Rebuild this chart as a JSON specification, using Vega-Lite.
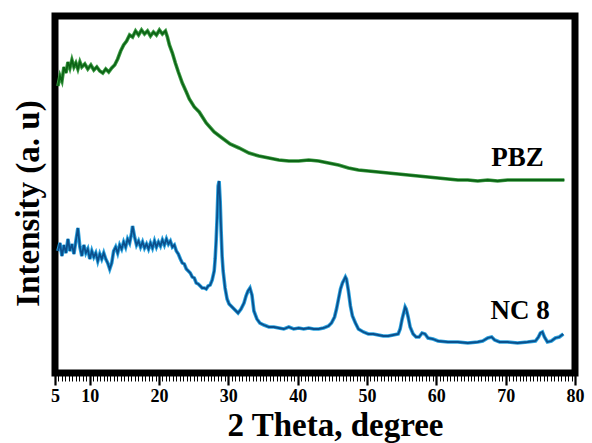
{
  "$schema": "https://vega.github.io/schema/vega-lite/v6.json",
  "width": 520,
  "height": 357,
  "autosize": {"type": "none"},
  "padding": {"left": 55, "top": 16, "right": 17, "bottom": 70},
  "config": {"view": {"stroke": "black", "strokeWidth": 7}, "font": "Liberation Serif"},
  "datasets": {
    "xrd": [
      {"s":"PBZ","t":5.43,"v":287},{"s":"PBZ","t":5.72,"v":297},{"s":"PBZ","t":6.0,"v":292},{"s":"PBZ","t":6.29,"v":306},{"s":"PBZ","t":6.58,"v":300},{"s":"PBZ","t":6.87,"v":311},{"s":"PBZ","t":7.15,"v":305},{"s":"PBZ","t":7.44,"v":313},{"s":"PBZ","t":7.73,"v":306},{"s":"PBZ","t":8.01,"v":310},{"s":"PBZ","t":8.3,"v":304},{"s":"PBZ","t":8.59,"v":311},{"s":"PBZ","t":8.87,"v":306},{"s":"PBZ","t":9.3,"v":309},{"s":"PBZ","t":9.73,"v":304},{"s":"PBZ","t":10.17,"v":308},{"s":"PBZ","t":10.6,"v":303},{"s":"PBZ","t":11.03,"v":306},{"s":"PBZ","t":11.46,"v":302},{"s":"PBZ","t":11.89,"v":300},{"s":"PBZ","t":12.32,"v":304},{"s":"PBZ","t":12.75,"v":301},{"s":"PBZ","t":13.18,"v":305},{"s":"PBZ","t":13.61,"v":308},{"s":"PBZ","t":14.04,"v":314},{"s":"PBZ","t":14.47,"v":322},{"s":"PBZ","t":14.9,"v":328},{"s":"PBZ","t":15.33,"v":332},{"s":"PBZ","t":15.76,"v":338},{"s":"PBZ","t":16.19,"v":336},{"s":"PBZ","t":16.62,"v":342},{"s":"PBZ","t":17.05,"v":338},{"s":"PBZ","t":17.48,"v":343},{"s":"PBZ","t":17.91,"v":339},{"s":"PBZ","t":18.34,"v":342},{"s":"PBZ","t":18.77,"v":337},{"s":"PBZ","t":19.2,"v":341},{"s":"PBZ","t":19.63,"v":338},{"s":"PBZ","t":20.06,"v":343},{"s":"PBZ","t":20.49,"v":339},{"s":"PBZ","t":20.93,"v":342},{"s":"PBZ","t":21.21,"v":336},{"s":"PBZ","t":21.5,"v":328},{"s":"PBZ","t":21.93,"v":320},{"s":"PBZ","t":22.36,"v":310},{"s":"PBZ","t":22.79,"v":301},{"s":"PBZ","t":23.36,"v":290},{"s":"PBZ","t":23.94,"v":281},{"s":"PBZ","t":24.37,"v":274},{"s":"PBZ","t":25.09,"v":266},{"s":"PBZ","t":25.8,"v":261},{"s":"PBZ","t":26.81,"v":250},{"s":"PBZ","t":27.96,"v":241},{"s":"PBZ","t":29.1,"v":235},{"s":"PBZ","t":30.25,"v":229},{"s":"PBZ","t":31.54,"v":225},{"s":"PBZ","t":32.98,"v":220},{"s":"PBZ","t":34.41,"v":217},{"s":"PBZ","t":35.85,"v":215},{"s":"PBZ","t":37.28,"v":213},{"s":"PBZ","t":38.72,"v":212},{"s":"PBZ","t":40.15,"v":212},{"s":"PBZ","t":41.59,"v":213},{"s":"PBZ","t":43.02,"v":212},{"s":"PBZ","t":44.45,"v":210},{"s":"PBZ","t":45.89,"v":208},{"s":"PBZ","t":47.32,"v":205},{"s":"PBZ","t":48.76,"v":203},{"s":"PBZ","t":50.19,"v":202},{"s":"PBZ","t":51.63,"v":201},{"s":"PBZ","t":53.06,"v":200},{"s":"PBZ","t":54.5,"v":199},{"s":"PBZ","t":55.93,"v":198},{"s":"PBZ","t":57.37,"v":197},{"s":"PBZ","t":58.8,"v":196},{"s":"PBZ","t":60.24,"v":195},{"s":"PBZ","t":61.67,"v":194},{"s":"PBZ","t":63.11,"v":193},{"s":"PBZ","t":64.54,"v":193},{"s":"PBZ","t":65.98,"v":192},{"s":"PBZ","t":67.41,"v":193},{"s":"PBZ","t":68.84,"v":192},{"s":"PBZ","t":70.28,"v":193},{"s":"PBZ","t":71.71,"v":193},{"s":"PBZ","t":73.15,"v":193},{"s":"PBZ","t":74.58,"v":193},{"s":"PBZ","t":76.02,"v":193},{"s":"PBZ","t":77.45,"v":193},{"s":"PBZ","t":78.46,"v":193},
      {"s":"NC 8","t":5.43,"v":122},{"s":"NC 8","t":5.72,"v":130},{"s":"NC 8","t":6.0,"v":117},{"s":"NC 8","t":6.29,"v":128},{"s":"NC 8","t":6.58,"v":120},{"s":"NC 8","t":6.87,"v":134},{"s":"NC 8","t":7.15,"v":122},{"s":"NC 8","t":7.44,"v":129},{"s":"NC 8","t":7.73,"v":119},{"s":"NC 8","t":8.01,"v":132},{"s":"NC 8","t":8.3,"v":145},{"s":"NC 8","t":8.59,"v":126},{"s":"NC 8","t":8.87,"v":117},{"s":"NC 8","t":9.16,"v":128},{"s":"NC 8","t":9.45,"v":120},{"s":"NC 8","t":9.73,"v":124},{"s":"NC 8","t":10.02,"v":114},{"s":"NC 8","t":10.31,"v":122},{"s":"NC 8","t":10.6,"v":116},{"s":"NC 8","t":10.88,"v":120},{"s":"NC 8","t":11.17,"v":112},{"s":"NC 8","t":11.46,"v":119},{"s":"NC 8","t":11.74,"v":114},{"s":"NC 8","t":12.03,"v":120},{"s":"NC 8","t":12.32,"v":114},{"s":"NC 8","t":12.6,"v":110},{"s":"NC 8","t":12.89,"v":104},{"s":"NC 8","t":13.18,"v":110},{"s":"NC 8","t":13.46,"v":122},{"s":"NC 8","t":13.75,"v":126},{"s":"NC 8","t":14.04,"v":120},{"s":"NC 8","t":14.33,"v":128},{"s":"NC 8","t":14.61,"v":124},{"s":"NC 8","t":14.9,"v":131},{"s":"NC 8","t":15.19,"v":126},{"s":"NC 8","t":15.47,"v":134},{"s":"NC 8","t":15.76,"v":130},{"s":"NC 8","t":16.05,"v":140},{"s":"NC 8","t":16.19,"v":147},{"s":"NC 8","t":16.48,"v":136},{"s":"NC 8","t":16.76,"v":128},{"s":"NC 8","t":17.05,"v":132},{"s":"NC 8","t":17.34,"v":126},{"s":"NC 8","t":17.63,"v":131},{"s":"NC 8","t":17.91,"v":125},{"s":"NC 8","t":18.2,"v":129},{"s":"NC 8","t":18.49,"v":124},{"s":"NC 8","t":18.77,"v":130},{"s":"NC 8","t":19.06,"v":125},{"s":"NC 8","t":19.35,"v":132},{"s":"NC 8","t":19.63,"v":126},{"s":"NC 8","t":19.92,"v":131},{"s":"NC 8","t":20.21,"v":127},{"s":"NC 8","t":20.49,"v":133},{"s":"NC 8","t":20.78,"v":128},{"s":"NC 8","t":21.07,"v":134},{"s":"NC 8","t":21.36,"v":129},{"s":"NC 8","t":21.64,"v":132},{"s":"NC 8","t":21.93,"v":126},{"s":"NC 8","t":22.22,"v":128},{"s":"NC 8","t":22.5,"v":122},{"s":"NC 8","t":22.79,"v":119},{"s":"NC 8","t":23.08,"v":114},{"s":"NC 8","t":23.36,"v":110},{"s":"NC 8","t":23.65,"v":109},{"s":"NC 8","t":23.94,"v":104},{"s":"NC 8","t":24.23,"v":102},{"s":"NC 8","t":24.51,"v":100},{"s":"NC 8","t":24.8,"v":96},{"s":"NC 8","t":25.09,"v":95},{"s":"NC 8","t":25.37,"v":90},{"s":"NC 8","t":25.66,"v":89},{"s":"NC 8","t":25.95,"v":87},{"s":"NC 8","t":26.23,"v":85},{"s":"NC 8","t":26.52,"v":85},{"s":"NC 8","t":26.81,"v":84},{"s":"NC 8","t":27.09,"v":87},{"s":"NC 8","t":27.38,"v":88},{"s":"NC 8","t":27.67,"v":93},{"s":"NC 8","t":27.96,"v":102},{"s":"NC 8","t":28.1,"v":114},{"s":"NC 8","t":28.24,"v":132},{"s":"NC 8","t":28.39,"v":157},{"s":"NC 8","t":28.53,"v":187},{"s":"NC 8","t":28.67,"v":192},{"s":"NC 8","t":28.82,"v":172},{"s":"NC 8","t":28.96,"v":142},{"s":"NC 8","t":29.1,"v":117},{"s":"NC 8","t":29.25,"v":102},{"s":"NC 8","t":29.53,"v":85},{"s":"NC 8","t":29.82,"v":74},{"s":"NC 8","t":30.11,"v":69},{"s":"NC 8","t":30.54,"v":66},{"s":"NC 8","t":30.97,"v":63},{"s":"NC 8","t":31.4,"v":60},{"s":"NC 8","t":31.83,"v":64},{"s":"NC 8","t":32.26,"v":70},{"s":"NC 8","t":32.55,"v":77},{"s":"NC 8","t":32.83,"v":82},{"s":"NC 8","t":33.12,"v":85},{"s":"NC 8","t":33.41,"v":78},{"s":"NC 8","t":33.69,"v":62},{"s":"NC 8","t":34.12,"v":54},{"s":"NC 8","t":34.55,"v":50},{"s":"NC 8","t":35.13,"v":48},{"s":"NC 8","t":35.85,"v":46},{"s":"NC 8","t":36.56,"v":46},{"s":"NC 8","t":37.28,"v":45},{"s":"NC 8","t":38.0,"v":44},{"s":"NC 8","t":38.72,"v":46},{"s":"NC 8","t":39.43,"v":44},{"s":"NC 8","t":40.15,"v":45},{"s":"NC 8","t":40.87,"v":44},{"s":"NC 8","t":41.59,"v":45},{"s":"NC 8","t":42.3,"v":44},{"s":"NC 8","t":43.02,"v":44},{"s":"NC 8","t":43.74,"v":45},{"s":"NC 8","t":44.45,"v":47},{"s":"NC 8","t":44.88,"v":50},{"s":"NC 8","t":45.32,"v":56},{"s":"NC 8","t":45.6,"v":64},{"s":"NC 8","t":45.89,"v":74},{"s":"NC 8","t":46.18,"v":84},{"s":"NC 8","t":46.46,"v":90},{"s":"NC 8","t":46.75,"v":94},{"s":"NC 8","t":46.89,"v":96},{"s":"NC 8","t":47.04,"v":94},{"s":"NC 8","t":47.32,"v":82},{"s":"NC 8","t":47.61,"v":67},{"s":"NC 8","t":47.9,"v":57},{"s":"NC 8","t":48.33,"v":50},{"s":"NC 8","t":48.76,"v":44},{"s":"NC 8","t":49.48,"v":41},{"s":"NC 8","t":50.19,"v":39},{"s":"NC 8","t":50.91,"v":39},{"s":"NC 8","t":51.63,"v":38},{"s":"NC 8","t":52.35,"v":37},{"s":"NC 8","t":53.06,"v":37},{"s":"NC 8","t":53.78,"v":38},{"s":"NC 8","t":54.5,"v":39},{"s":"NC 8","t":54.78,"v":44},{"s":"NC 8","t":55.07,"v":54},{"s":"NC 8","t":55.36,"v":62},{"s":"NC 8","t":55.5,"v":66},{"s":"NC 8","t":55.65,"v":64},{"s":"NC 8","t":55.93,"v":56},{"s":"NC 8","t":56.22,"v":46},{"s":"NC 8","t":56.65,"v":39},{"s":"NC 8","t":57.08,"v":36},{"s":"NC 8","t":57.51,"v":36},{"s":"NC 8","t":57.94,"v":40},{"s":"NC 8","t":58.37,"v":39},{"s":"NC 8","t":58.8,"v":35},{"s":"NC 8","t":59.52,"v":34},{"s":"NC 8","t":60.24,"v":32},{"s":"NC 8","t":61.67,"v":31},{"s":"NC 8","t":63.11,"v":31},{"s":"NC 8","t":64.54,"v":30},{"s":"NC 8","t":65.98,"v":31},{"s":"NC 8","t":66.69,"v":32},{"s":"NC 8","t":67.41,"v":35},{"s":"NC 8","t":67.98,"v":36},{"s":"NC 8","t":68.41,"v":33},{"s":"NC 8","t":69.13,"v":31},{"s":"NC 8","t":70.28,"v":31},{"s":"NC 8","t":71.71,"v":30},{"s":"NC 8","t":73.15,"v":31},{"s":"NC 8","t":74.3,"v":32},{"s":"NC 8","t":74.73,"v":36},{"s":"NC 8","t":75.01,"v":40},{"s":"NC 8","t":75.3,"v":41},{"s":"NC 8","t":75.59,"v":36},{"s":"NC 8","t":76.02,"v":31},{"s":"NC 8","t":76.59,"v":32},{"s":"NC 8","t":77.17,"v":35},{"s":"NC 8","t":77.74,"v":36},{"s":"NC 8","t":78.31,"v":39}
    ],
    "labels": [
      {"label": "PBZ", "t": 71.7, "v": 215},
      {"label": "NC 8", "t": 72.1, "v": 62}
    ]
  },
  "encoding": {
    "x": {
      "field": "t", "type": "quantitative",
      "scale": {"domain": [5, 80], "nice": false, "zero": false},
      "axis": {
        "title": "2 Theta, degree",
        "values": [5,5.5,6,6.5,7,7.5,8,8.5,9,9.5,10,10.5,11,11.5,12,12.5,13,13.5,14,14.5,15,15.5,16,16.5,17,17.5,18,18.5,19,19.5,20,20.5,21,21.5,22,22.5,23,23.5,24,24.5,25,25.5,26,26.5,27,27.5,28,28.5,29,29.5,30,30.5,31,31.5,32,32.5,33,33.5,34,34.5,35,35.5,36,36.5,37,37.5,38,38.5,39,39.5,40,40.5,41,41.5,42,42.5,43,43.5,44,44.5,45,45.5,46,46.5,47,47.5,48,48.5,49,49.5,50,50.5,51,51.5,52,52.5,53,53.5,54,54.5,55,55.5,56,56.5,57,57.5,58,58.5,59,59.5,60,60.5,61,61.5,62,62.5,63,63.5,64,64.5,65,65.5,66,66.5,67,67.5,68,68.5,69,69.5,70,70.5,71,71.5,72,72.5,73,73.5,74,74.5,75,75.5,76,76.5,77,77.5,78,78.5,79,79.5,80],
        "labelExpr": "(datum.value % 10 === 0 || datum.value === 5) ? format(datum.value, 'd') : ''",
        "labelFont": "Liberation Serif", "labelFontWeight": "bold", "labelFontSize": 18, "labelColor": "black",
        "labelFlush": false, "labelOverlap": false, "labelPadding": 2,
        "tickColor": "black",
        "tickWidth": {"condition": {"test": "datum.value % 10 === 0 || datum.value === 5", "value": 2.2}, "value": 1},
        "tickSize": {"condition": {"test": "datum.value % 10 === 0 || datum.value === 5", "value": 12}, "value": 8},
        "domain": false, "grid": false,
        "titleFont": "Liberation Serif", "titleFontWeight": "bold", "titleFontSize": 33, "titleColor": "black",
        "titlePadding": 4, "titleX": 280
      }
    },
    "y": {
      "field": "v", "type": "quantitative",
      "scale": {"domain": [0, 357], "nice": false},
      "axis": {
        "title": "Intensity (a. u)", "labels": false, "ticks": false, "domain": false, "grid": false,
        "titleFont": "Liberation Serif", "titleFontWeight": "bold", "titleFontSize": 33, "titleColor": "black",
        "titlePadding": 10, "titleY": 187
      }
    }
  },
  "layer": [
    {
      "data": {"name": "xrd"},
      "mark": {"type": "line", "strokeWidth": 3.6},
      "encoding": {"color": {"field": "s", "type": "nominal", "scale": {"domain": ["PBZ", "NC 8"], "range": ["#3c9a44", "#2aa2de"]}, "legend": null}}
    },
    {
      "data": {"name": "xrd"},
      "mark": {"type": "line", "strokeWidth": 1.8},
      "encoding": {"color": {"field": "s", "type": "nominal", "scale": {"domain": ["PBZ", "NC 8"], "range": ["#0c6415", "#0b4f8c"]}, "legend": null}}
    },
    {
      "data": {"name": "labels"},
      "mark": {"type": "text", "font": "Liberation Serif", "fontWeight": "bold", "fontSize": 27, "color": "black", "align": "center", "baseline": "middle"},
      "encoding": {"text": {"field": "label", "type": "nominal"}}
    }
  ],
  "resolve": {"scale": {"color": "independent"}}
}
